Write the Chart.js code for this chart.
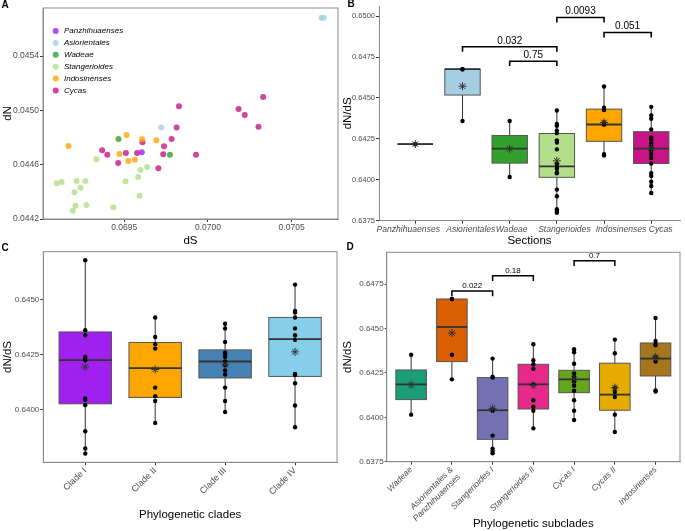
<!DOCTYPE html>
<html>
<head>
<meta charset="utf-8">
<script src="https://cdn.jsdelivr.net/npm/chart.js@4.4.0/dist/chart.umd.min.js"></script>
<style>
  html, body { margin: 0; padding: 0; background: #fff; }
  body { width: 685px; height: 531px; position: relative; overflow: hidden; }
  canvas { position: absolute; }
</style>
</head>
<body>
<canvas id="chartA" width="342" height="247" style="left:0;top:0"></canvas>
<canvas id="chartB" width="343" height="247" style="left:342px;top:0"></canvas>
<canvas id="chartC" width="342" height="291" style="left:0;top:240px"></canvas>
<canvas id="chartD" width="343" height="291" style="left:342px;top:240px"></canvas>
<script>
// ---- panel A: dN vs dS per section ----
const aSections = ['Panzhihuaenses', 'Asiorientales', 'Wadeae', 'Stangerioides', 'Indosinenses', 'Cycas'];
const aColors = ['rgba(160,32,240,0.8)', 'rgba(166,206,227,0.8)', 'rgba(51,160,44,0.8)',
                 'rgba(178,223,138,0.8)', 'rgba(255,165,0,0.8)', 'rgba(199,21,133,0.8)'];
const aDS = [
  [0.069605],
  [0.070679, 0.070692, 0.069721],
  [0.069466, 0.069773],
  [0.069096, 0.069126, 0.069215, 0.069268, 0.069239, 0.069203, 0.069209, 0.069193,
   0.069274, 0.069334, 0.069435, 0.069508, 0.069583, 0.069597, 0.069637, 0.069591],
  [0.069167, 0.069514, 0.069607, 0.069692, 0.069472, 0.069524, 0.069564],
  [0.069368, 0.069399, 0.069464, 0.069510, 0.069577, 0.069609, 0.069738, 0.069733, 0.069783,
   0.069813, 0.069827, 0.069704, 0.069929, 0.070183, 0.070220, 0.070302, 0.070330]
];
const aDN = [
  [0.044691],
  [0.045683, 0.045683, 0.044873],
  [0.044789, 0.044674],
  [0.044463, 0.044473, 0.044480, 0.044480, 0.044431, 0.044397, 0.044298, 0.044261,
   0.044303, 0.044640, 0.044286, 0.044478, 0.044509, 0.044561, 0.044583, 0.044372],
  [0.044738, 0.044819, 0.044787, 0.044780, 0.044679, 0.044627, 0.044637],
  [0.044706, 0.044674, 0.044612, 0.044686, 0.044686, 0.044765, 0.044736, 0.044677, 0.044789,
   0.044873, 0.045030, 0.044573, 0.044674, 0.045010, 0.044966, 0.044880, 0.045099]
];
const aTicksX = [0.0695, 0.0700, 0.0705];
const aTicksY = [0.0442, 0.0446, 0.0450, 0.0454];

// ---- panel B: dN/dS per section ----
const bSections = ['Panzhihuaenses', 'Asiorientales', 'Wadeae', 'Stangerioides', 'Indosinenses', 'Cycas'];
const bColors = ['#a020f0', '#a6cee3', '#33a02c', '#b2df8a', '#ffa500', '#c71585'];
const bQ1 = [0.64218, 0.64518, 0.64102, 0.64015, 0.64235, 0.64100];
const bMed = [0.64218, 0.64676, 0.64190, 0.64082, 0.64338, 0.64190];
const bQ3 = [0.64218, 0.64676, 0.64271, 0.64283, 0.64432, 0.64294];
const bLo = [0.64218, 0.64359, 0.64017, 0.63799, 0.64149, 0.63919];
const bHi = [0.64218, 0.64676, 0.64359, 0.64424, 0.64570, 0.64446];
const bMean = [0.64218, 0.64572, 0.64190, 0.64116, 0.64350, 0.64195];
const bPoints = [
  [0.64218],
  [0.64676, 0.64676, 0.64359],
  [0.64359, 0.64017],
  [0.64424, 0.64342, 0.64330, 0.64302, 0.64285, 0.64241, 0.64228, 0.64186, 0.64098,
   0.64080, 0.64068, 0.64045, 0.64040, 0.63940, 0.63899, 0.63820, 0.63810, 0.63799],
  [0.64570, 0.64440, 0.64426, 0.64351, 0.64337, 0.64157, 0.64149],
  [0.64446, 0.64393, 0.64373, 0.64308, 0.64259, 0.64247, 0.64222, 0.64202, 0.64178,
   0.64157, 0.64133, 0.64100, 0.64041, 0.64023, 0.63988, 0.63962, 0.63919]
];
const bBrFrom = [2, 3, 4, 5];
const bBrTo = [4, 4, 5, 6];
const bBrY = [0.64813, 0.64725, 0.64992, 0.64900];
const bBrText = ['0.032', '0.75', '0.0093', '0.051'];
const bTicksY = [0.6375, 0.6400, 0.6425, 0.6450, 0.6475, 0.6500];
// the section names sit a little off their tick marks in the figure
const bLabelShift = [-0.15, 0.175, 0.04, 0.16, 0.36, 0.2];

// ---- panel C: dN/dS per clade ----
const cClades = ['Clade I', 'Clade II', 'Clade III', 'Clade IV'];
const cColors = ['#a020f0', '#ffa500', '#4682b4', '#87ceeb'];
const cQ1 = [0.64025, 0.64054, 0.64143, 0.64150];
const cMed = [0.64224, 0.64188, 0.64218, 0.64320];
const cQ3 = [0.64353, 0.64305, 0.64271, 0.64419];
const cLo = [0.63798, 0.63938, 0.63988, 0.63918];
const cHi = [0.64680, 0.64419, 0.64390, 0.64569];
const cMean = [0.64193, 0.64182, 0.64205, 0.64262];
const cPoints = [
  [0.64680, 0.64361, 0.64338, 0.64239, 0.64232, 0.64224, 0.64049, 0.64042, 0.64019, 0.63900, 0.63821, 0.63798],
  [0.64419, 0.64330, 0.64297, 0.64277, 0.64099, 0.64060, 0.64038, 0.63938],
  [0.64390, 0.64369, 0.64307, 0.64259, 0.64251, 0.64239, 0.64218, 0.64201, 0.64177, 0.64159, 0.64099, 0.64038, 0.63988],
  [0.64569, 0.64449, 0.64442, 0.64419, 0.64369, 0.64338, 0.64317, 0.64161, 0.64156, 0.64119, 0.64017, 0.63918]
];
const cTicksY = [0.6400, 0.6425, 0.6450];

// ---- panel D: dN/dS per subclade ----
const dSubclades = ['Wadeae', ['Asiorientales &', 'Panzhihuaenses'], 'Stangerioides I', 'Stangerioides II',
                    'Cycas I', 'Cycas II', 'Indosinenses'];
const dColors = ['#1b9e77', '#d95f02', '#7570b3', '#e7298a', '#66a61e', '#e6ab02', '#a6761d'];
const dQ1 = [0.64100, 0.64314, 0.63876, 0.64047, 0.64139, 0.64040, 0.64233];
const dMed = [0.64186, 0.64509, 0.64040, 0.64186, 0.64214, 0.64128, 0.64331];
const dQ3 = [0.64267, 0.64667, 0.64224, 0.64299, 0.64265, 0.64305, 0.64419];
const dLo = [0.64015, 0.64214, 0.63797, 0.63938, 0.63985, 0.63917, 0.64145];
const dHi = [0.64353, 0.64667, 0.64331, 0.64412, 0.64384, 0.64438, 0.64560];
const dMean = [0.64184, 0.64475, 0.64050, 0.64180, 0.64215, 0.64167, 0.64340];
const dPoints = [
  [0.64353, 0.64015],
  [0.64667, 0.64667, 0.64353, 0.64214],
  [0.64331, 0.64229, 0.64224, 0.64047, 0.64037, 0.63897, 0.63823, 0.63810, 0.63797],
  [0.64412, 0.64322, 0.64299, 0.64274, 0.64186, 0.64096, 0.64060, 0.64037, 0.63938],
  [0.64384, 0.64367, 0.64302, 0.64248, 0.64227, 0.64214, 0.64201, 0.64178, 0.64150, 0.64096, 0.64037, 0.63985],
  [0.64438, 0.64361, 0.64167, 0.64143, 0.64115, 0.64015, 0.63917],
  [0.64560, 0.64430, 0.64412, 0.64406, 0.64340, 0.64314, 0.64152, 0.64145]
];
const dBrFrom = [2, 3, 5];
const dBrTo = [3, 4, 6];
const dBrY = [0.64712, 0.64798, 0.64883];
const dBrText = ['0.022', '0.18', '0.7'];
const dTicksY = [0.6375, 0.6400, 0.6425, 0.6450, 0.6475];

Chart.defaults.font.family = "'Liberation Sans', Arial, sans-serif";
Chart.defaults.color = '#4d4d4d';
Chart.defaults.animation = false;
Chart.defaults.plugins.legend.display = false;
Chart.defaults.plugins.tooltip.enabled = false;

const TITLE_FONT = { size: 11.5, lineHeight: 1 };

function letterPlugin(letter, x, y) {
  return {
    id: 'letter',
    afterDraw(chart) {
      const ctx = chart.ctx;
      ctx.save();
      ctx.fillStyle = '#000';
      ctx.font = "bold 10px 'Liberation Sans', Arial, sans-serif";
      ctx.textAlign = 'center';
      ctx.textBaseline = 'middle';
      ctx.fillText(letter, x, y);
      ctx.restore();
    }
  };
}

const framePlugin = {
  id: 'frame',
  afterDatasetsDraw(chart) {
    const { ctx, chartArea: a } = chart;
    ctx.save();
    ctx.strokeStyle = '#8c8c8c';
    ctx.lineWidth = 1;
    ctx.strokeRect(a.left, a.top, a.right - a.left, a.bottom - a.top);
    ctx.restore();
  }
};

function boxPlugin(st) {
  return {
    id: 'boxes',
    beforeDatasetsDraw(chart) {
      const { ctx, scales: { x, y } } = chart;
      ctx.save();
      st.q1.forEach((q1, i) => {
        const cx = x.getPixelForValue(i + 1);
        const hw = x.getPixelForValue(i + 1.375) - cx;
        const y1 = y.getPixelForValue(q1);
        const y3 = y.getPixelForValue(st.q3[i]);
        const ym = y.getPixelForValue(st.med[i]);
        ctx.strokeStyle = '#333';
        ctx.lineWidth = 1;
        ctx.beginPath();
        ctx.moveTo(cx, y3); ctx.lineTo(cx, y.getPixelForValue(st.hi[i]));
        ctx.moveTo(cx, y1); ctx.lineTo(cx, y.getPixelForValue(st.lo[i]));
        ctx.stroke();
        ctx.fillStyle = st.colors[i];
        ctx.fillRect(cx - hw, y3, 2 * hw, y1 - y3);
        ctx.strokeStyle = '#555';
        ctx.strokeRect(cx - hw, y3, 2 * hw, y1 - y3);
        ctx.strokeStyle = '#333';
        ctx.lineWidth = 1.8;
        ctx.beginPath();
        ctx.moveTo(cx - hw, ym); ctx.lineTo(cx + hw, ym);
        ctx.stroke();
      });
      ctx.restore();
    }
  };
}

function bracketPlugin(br) {
  return {
    id: 'brackets',
    afterDatasetsDraw(chart) {
      const { ctx, scales: { x, y } } = chart;
      ctx.save();
      ctx.strokeStyle = '#000';
      ctx.lineWidth = br.lw;
      ctx.fillStyle = '#000';
      ctx.font = br.size + "px 'Liberation Sans', Arial, sans-serif";
      ctx.textAlign = 'center';
      ctx.textBaseline = 'bottom';
      br.from.forEach((f, i) => {
        const x1 = x.getPixelForValue(f), x2 = x.getPixelForValue(br.to[i]);
        const yl = y.getPixelForValue(br.y[i]);
        const yt = y.getPixelForValue(br.y[i] - br.drop);
        ctx.beginPath();
        ctx.moveTo(x1, yt); ctx.lineTo(x1, yl); ctx.lineTo(x2, yl); ctx.lineTo(x2, yt);
        ctx.stroke();
        ctx.fillText(br.text[i], (x1 + x2) / 2, yl - 1);
      });
      ctx.restore();
    }
  };
}

const legendA = {
  id: 'legendA',
  afterDraw(chart) {
    const ctx = chart.ctx;
    ctx.save();
    ctx.font = "italic 8px 'Liberation Sans', Arial, sans-serif";
    ctx.textBaseline = 'middle';
    chart.data.datasets.forEach((ds, i) => {
      const yy = 31 + i * 11.9;
      ctx.fillStyle = ds.backgroundColor;
      ctx.beginPath();
      ctx.arc(55.7, yy, 3, 0, Math.PI * 2);
      ctx.fill();
      ctx.fillStyle = '#000';
      ctx.fillText(ds.label, 64, yy);
    });
    ctx.restore();
  }
};

function valueAxis(min, max, ticks, width, tickSize, tickLen, titlePadTop) {
  return {
    type: 'linear', min, max,
    afterBuildTicks: s => { s.ticks = ticks.map(v => ({ value: v })); },
    afterFit: s => { s.width = width; },
    ticks: { callback: v => v.toFixed(4), font: { size: tickSize }, color: '#4d4d4d', padding: 1 },
    grid: { drawOnChartArea: false, tickLength: tickLen, color: '#333' },
    border: { color: '#8c8c8c' },
    title: { display: true, text: 'dN/dS', color: '#000', font: TITLE_FONT, padding: { top: titlePadTop, bottom: 0 } }
  };
}

function groupAxis(labels, min, max, height, title, font, rot, titlePadBottom) {
  return {
    type: 'linear', min, max,
    afterBuildTicks: s => { s.ticks = labels.map((_, i) => ({ value: i + 1 })); },
    afterFit: s => { s.height = height; },
    ticks: { callback: (v, i) => labels[i], autoSkip: false, minRotation: rot, maxRotation: rot,
             font, color: '#4d4d4d', padding: 0 },
    grid: { drawOnChartArea: false, tickLength: 3, color: '#333' },
    border: { color: '#8c8c8c' },
    title: { display: true, text: title, color: '#000', font: TITLE_FONT, padding: { top: 0, bottom: titlePadBottom } }
  };
}

function boxDatasets(points, means) {
  const pts = [];
  points.forEach((arr, i) => arr.forEach(v => pts.push({ x: i + 1, y: v })));
  return [
    { data: means.map((m, i) => ({ x: i + 1, y: m })), pointStyle: 'star', pointRadius: 4,
      borderColor: '#333', borderWidth: 1, backgroundColor: 'rgba(0,0,0,0)' },
    { data: pts, pointRadius: 2.2, backgroundColor: '#000', borderWidth: 0 }
  ];
}

// A
new Chart(document.getElementById('chartA'), {
  type: 'scatter',
  data: {
    datasets: aSections.map((s, i) => ({
      label: s,
      data: aDS[i].map((v, j) => ({ x: v, y: aDN[i][j] })),
      backgroundColor: aColors[i], borderWidth: 0, pointRadius: 3
    }))
  },
  options: {
    responsive: false,
    layout: { padding: { top: 8, right: 2, left: 0, bottom: 0 } },
    scales: {
      x: {
        type: 'linear', min: 0.069015, max: 0.070777,
        afterBuildTicks: s => { s.ticks = aTicksX.map(v => ({ value: v })); },
        afterFit: s => { s.height = 28; },
        ticks: { callback: v => v.toFixed(4), font: { size: 8.5 }, padding: 1 },
        grid: { drawOnChartArea: false, tickLength: 3, color: '#333' },
        border: { color: '#8c8c8c' },
        title: { display: true, text: 'dS', color: '#000', font: TITLE_FONT, padding: { top: 0, bottom: 0 } }
      },
      y: {
        type: 'linear', min: 0.0442, max: 0.045754,
        afterBuildTicks: s => { s.ticks = aTicksY.map(v => ({ value: v })); },
        afterFit: s => { s.width = 43; },
        ticks: { callback: v => v.toFixed(4), font: { size: 8.5 }, padding: 1 },
        grid: { drawOnChartArea: false, tickLength: 3, color: '#333' },
        border: { color: '#8c8c8c' },
        title: { display: true, text: 'dN', color: '#000', font: TITLE_FONT, padding: { top: 2, bottom: 0 } }
      }
    }
  },
  plugins: [framePlugin, legendA, letterPlugin('A', 5, 5)]
});

// B: tick marks on 'x', section names on a second bottom axis 'xl'
const bMin = 0.23, bMax = 6.61;
new Chart(document.getElementById('chartB'), {
  type: 'scatter',
  data: { datasets: boxDatasets(bPoints, bMean) },
  options: {
    responsive: false,
    layout: { padding: { top: 6, right: 0, left: 0, bottom: 0 } },
    scales: {
      x: {
        type: 'linear', min: bMin, max: bMax, weight: 0,
        afterBuildTicks: s => { s.ticks = bSections.map((_, i) => ({ value: i + 1 })); },
        afterFit: s => { s.height = 3; },
        ticks: { display: false },
        grid: { drawOnChartArea: false, tickLength: 3, color: '#333' },
        border: { color: '#8c8c8c' }
      },
      xl: {
        type: 'linear', position: 'bottom', min: bMin, max: bMax, weight: 1,
        afterBuildTicks: s => { s.ticks = bSections.map((_, i) => ({ value: i + 1 + bLabelShift[i] })); },
        afterFit: s => { s.height = 23.3; },
        ticks: { callback: (v, i) => bSections[i], autoSkip: false, minRotation: 0, maxRotation: 0,
                 font: { size: 8.6, style: 'italic' }, color: '#4d4d4d', padding: 1 },
        grid: { display: false, drawTicks: false },
        border: { display: false },
        title: { display: true, text: 'Sections', color: '#000', font: TITLE_FONT, padding: { top: 0, bottom: 0 } }
      },
      y: valueAxis(0.6375, 0.650623, bTicksY, 37, 7.5, 3, 0)
    }
  },
  plugins: [boxPlugin({ q1: bQ1, med: bMed, q3: bQ3, lo: bLo, hi: bHi, colors: bColors }),
            bracketPlugin({ from: bBrFrom, to: bBrTo, y: bBrY, text: bBrText, drop: 0.0003, lw: 1.6, size: 10 }),
            letterPlugin('B', 9, 4)]
});

// C
new Chart(document.getElementById('chartC'), {
  type: 'scatter',
  data: { datasets: boxDatasets(cPoints, cMean) },
  options: {
    responsive: false,
    layout: { padding: { top: 11.7, right: 2, left: 0, bottom: 0 } },
    scales: {
      x: groupAxis(cClades, 0.4, 4.6, 68.7, 'Phylogenetic clades', { size: 9 }, 45, 10),
      y: valueAxis(0.637582, 0.64719, cTicksY, 43.3, 8, 3, 2)
    }
  },
  plugins: [framePlugin, boxPlugin({ q1: cQ1, med: cMed, q3: cQ3, lo: cLo, hi: cHi, colors: cColors }),
            letterPlugin('C', 5, 8)]
});

// D
new Chart(document.getElementById('chartD'), {
  type: 'scatter',
  data: { datasets: boxDatasets(dPoints, dMean) },
  options: {
    responsive: false,
    layout: { padding: { top: 12.3, right: 1, left: 0, bottom: 0 } },
    scales: {
      x: groupAxis(dSubclades, 0.4, 7.6, 69.3, 'Phylogenetic subclades', { size: 8.5, style: 'italic' }, 45, 1),
      y: valueAxis(0.6375, 0.6493, dTicksY, 44.7, 8, 2, 0)
    }
  },
  plugins: [framePlugin, boxPlugin({ q1: dQ1, med: dMed, q3: dQ3, lo: dLo, hi: dHi, colors: dColors }),
            bracketPlugin({ from: dBrFrom, to: dBrTo, y: dBrY, text: dBrText, drop: 0.0003, lw: 1.5, size: 8 }),
            letterPlugin('D', 8, 7)]
});
</script>
</body>
</html>
